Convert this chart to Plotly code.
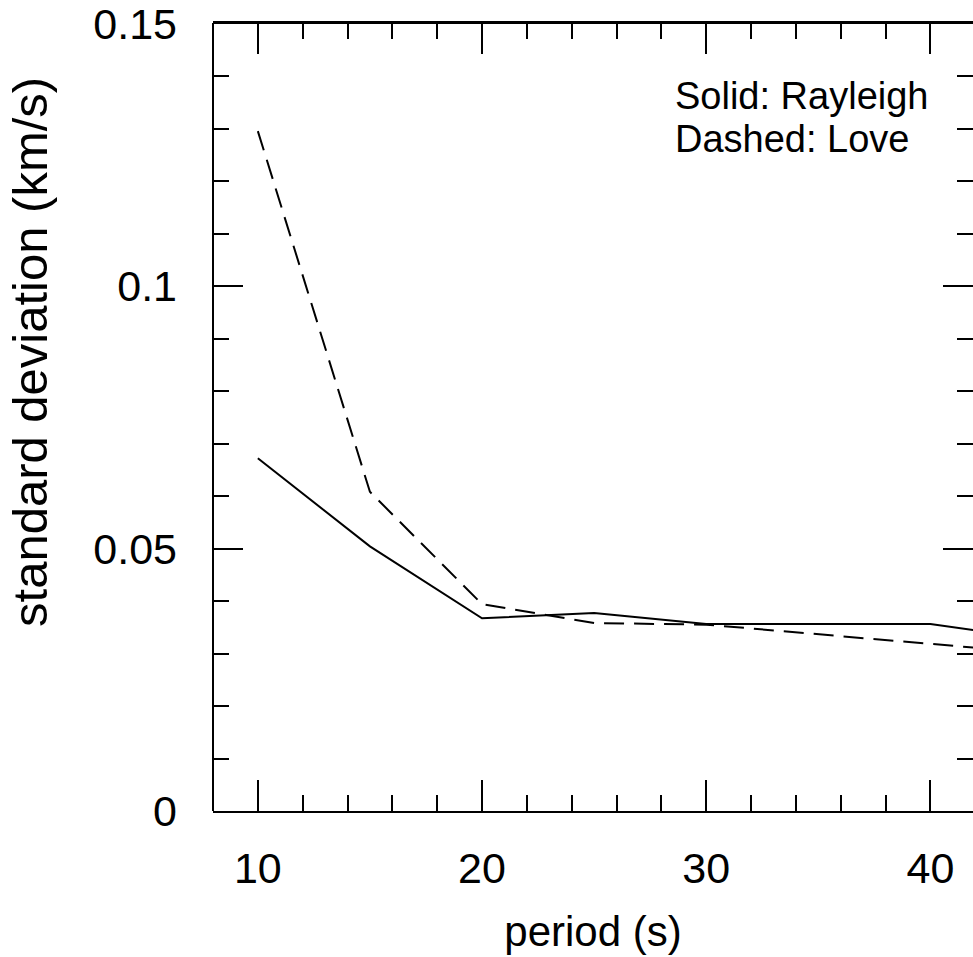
import plotly.graph_objects as go

# Data
period = [10, 15, 20, 25, 30, 35, 40, 45]
rayleigh_sd = [0.0672, 0.0504, 0.0367, 0.0377, 0.0356, 0.0356, 0.0356, 0.0326]
love_sd = [0.1295, 0.0608, 0.0394, 0.0358, 0.0355, 0.0337, 0.0318, 0.0300]

x_ticks = [10, 20, 30, 40]
y_ticks = [0, 0.05, 0.1, 0.15]

FONT = "Liberation Sans, Arial, Helvetica, sans-serif"

fig = go.Figure()
fig.add_trace(go.Scatter(x=period, y=rayleigh_sd, mode="lines",
                         line=dict(color="black", width=2), name="Rayleigh"))
fig.add_trace(go.Scatter(x=period, y=love_sd, mode="lines",
                         line=dict(color="black", width=2, dash="20px,10px"), name="Love"))

fig.update_layout(
    width=973, height=957,
    margin=dict(l=213, r=0, t=19, b=146),
    paper_bgcolor="white", plot_bgcolor="white",
    showlegend=False,
    font=dict(family=FONT, color="black"),
    xaxis=dict(
        range=[8.0, 41.9], tickvals=x_ticks, ticks="inside", ticklen=31, tickwidth=2,
        tickcolor="black", showline=True, linewidth=2, linecolor="black", mirror="ticks",
        showgrid=False, zeroline=False, tickfont=dict(size=43, family=FONT),
        ticklabelstandoff=18, ticklabeloverflow="allow",
        minor=dict(dtick=2, ticks="inside", ticklen=16, tickwidth=2, tickcolor="black", showgrid=False),
        title=dict(text="period (s)", font=dict(size=42, family=FONT), standoff=26),
    ),
    yaxis=dict(
        range=[0, 0.1501], tickvals=y_ticks, ticks="inside", ticklen=30, tickwidth=2,
        tickcolor="black", showline=False, mirror="ticks",
        showgrid=False, zeroline=False, tickfont=dict(size=43, family=FONT),
        ticklabelstandoff=35, ticklabeloverflow="allow",
        minor=dict(dtick=0.01, ticks="inside", ticklen=16, tickwidth=2, tickcolor="black", showgrid=False),
    ),
    shapes=[
        dict(type="line", xref="paper", yref="paper", x0=0, x1=0, y0=0, y1=1,
             line=dict(color="black", width=2)),
        dict(type="line", xref="paper", yref="paper", x0=0, x1=1, y0=1, y1=1,
             line=dict(color="black", width=2)),
    ],
    annotations=[
        dict(text="standard deviation (km/s)", xref="paper", yref="paper",
             x=-0.24, y=0.582, xanchor="center", yanchor="middle", textangle=-90,
             showarrow=False, font=dict(size=49, family=FONT)),
        dict(text="Solid: Rayleigh", xref="paper", yref="paper", x=0.606, y=0.9068,
             xanchor="left", yanchor="middle", showarrow=False, borderpad=0,
             font=dict(size=38, family=FONT)),
        dict(text="Dashed: Love", xref="paper", yref="paper", x=0.606, y=0.8525,
             xanchor="left", yanchor="middle", showarrow=False, borderpad=0,
             font=dict(size=38, family=FONT)),
    ],
)

fig.write_html("out.html")
